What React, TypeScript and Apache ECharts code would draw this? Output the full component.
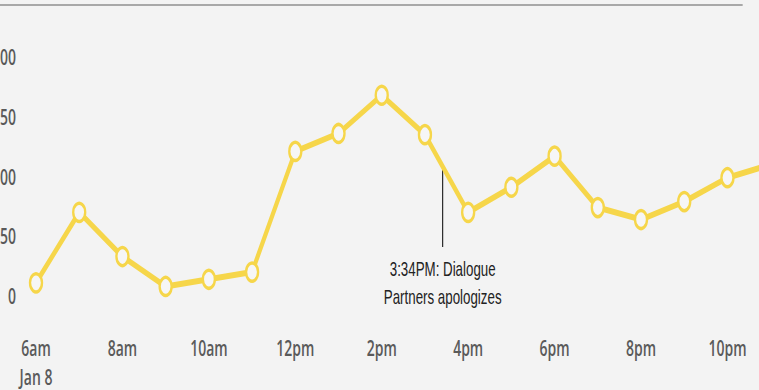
import React, { useEffect, useRef } from "react";
import * as echarts from "echarts";

const hours = ["6am","7am","8am","9am","10am","11am","12pm","1pm","2pm","3pm","4pm","5pm","6pm","7pm","8pm","9pm","10pm","11pm"];
const mentions = [11, 70, 33, 8, 14, 20, 121, 136, 168, 135, 70, 91, 117, 74, 64, 79, 99, 110];
const yTicks = [0, 50, 100, 150, 200];
const dateLabel = "Jan 8";
const annotationLines = ["3:34PM: Dialogue", "Partners apologizes"];

const SX = 2 / 3;
const W = 759;
const H = 390;
const UW = Math.round(W / SX);

export default function App() {
  const ref = useRef<HTMLDivElement>(null);
  useEffect(() => {
    if (!ref.current) return;
    const chart = echarts.init(ref.current, null, { renderer: "svg" });
    const yellow = "#f6d64a";
    chart.setOption({
      animation: false,
      backgroundColor: "#f3f3f3",
      grid: { left: 54, right: -17, top: 57, bottom: 94, outerBoundsMode: "none", containLabel: false },
      xAxis: {
        type: "category",
        data: hours,
        boundaryGap: false,
        axisLine: { show: false },
        axisTick: { show: false },
        splitLine: { show: false },
        axisLabel: {
          interval: 1,
          margin: 37,
          fontFamily: "Open Sans",
          fontSize: 21,
          fontWeight: 600,
          lineHeight: 29,
          color: "#5a5a5a",
          formatter: (v: string, i: number) => (i === 0 ? v + "\n" + dateLabel : v),
        },
      },
      yAxis: {
        type: "value",
        min: yTicks[0],
        max: yTicks[yTicks.length - 1],
        interval: 50,
        axisLine: { show: false },
        axisTick: { show: false },
        splitLine: { show: false },
        axisLabel: {
          margin: 30,
          fontFamily: "Open Sans",
          fontSize: 21,
          fontWeight: 600,
          color: "#5a5a5a",
        },
      },
      series: [
        {
          type: "line",
          data: mentions,
          clip: false,
          symbol: "circle",
          symbolSize: 18,
          lineStyle: { color: yellow, width: 6 },
          itemStyle: { color: "#f6f6f6", borderColor: yellow, borderWidth: 3.5 },
          z: 3,
        },
      ],
      graphic: [
        {
          type: "line",
          shape: { x1: 0, y1: 5, x2: 1114, y2: 5 },
          style: { stroke: "#a8a8a8", lineWidth: 2 },
        },
        {
          type: "line",
          shape: { x1: 664, y1: 167, x2: 664, y2: 247 },
          style: { stroke: "#111", lineWidth: 1.6 },
        },
        {
          type: "text",
          x: 664,
          y: 270,
          style: {
            text: annotationLines[0],
            fontFamily: "Liberation Sans",
            fontSize: 20,
            fill: "#222",
            align: "center",
            verticalAlign: "middle",
          },
        },
        {
          type: "text",
          x: 664,
          y: 298,
          style: {
            text: annotationLines[1],
            fontFamily: "Liberation Sans",
            fontSize: 20,
            fill: "#222",
            align: "center",
            verticalAlign: "middle",
          },
        },
      ],
    });
    return () => chart.dispose();
  }, []);
  return (
    <div
      style={{
        position: "fixed",
        left: 0,
        top: 0,
        width: W,
        height: H,
        overflow: "hidden",
        background: "#f3f3f3",
      }}
    >
      <div
        ref={ref}
        style={{
          width: UW,
          height: H,
          transform: `scaleX(${SX})`,
          transformOrigin: "0 0",
        }}
      />
    </div>
  );
}
